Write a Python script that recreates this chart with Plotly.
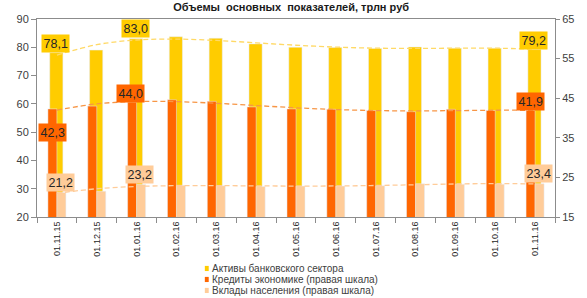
import numpy as np
import plotly.graph_objects as go

dates = ["01.11.15", "01.12.15", "01.01.16", "01.02.16", "01.03.16", "01.04.16", "01.05.16",
         "01.06.16", "01.07.16", "01.08.16", "01.09.16", "01.10.16", "01.11.16"]
assets = [78.1, 79.0, 83.0, 83.7, 83.2, 81.2, 80.0, 79.9, 79.6, 80.1, 79.7, 79.7, 79.2]
credits = [42.3, 43.0, 44.0, 44.6, 44.2, 42.8, 42.3, 42.2, 41.9, 41.6, 42.2, 41.9, 41.9]
deposits = [21.2, 21.5, 23.2, 23.0, 22.9, 22.7, 22.8, 22.8, 22.9, 23.4, 23.3, 23.3, 23.4]

names = ["Активы банковского сектора",
         "Кредиты экономике (правая шкала)",
         "Вклады населения (правая шкала)"]
c_assets, c_credits, c_deposits = "#FFCC00", "#FF6600", "#FFCC99"
c_tr_assets, c_tr_credits, c_tr_deposits = "#FFD966", "#F79646", "#FFCC99"

FONT = "Liberation Sans, Arial, sans-serif"

fig = go.Figure()
fig.add_trace(go.Bar(x=dates, y=assets, name=names[0], marker_color=c_assets,
                     width=0.33, offset=-0.18, yaxis="y", showlegend=False))
fig.add_trace(go.Bar(x=dates, y=credits, name=names[1], marker_color=c_credits,
                     width=0.226, offset=-0.226, yaxis="y2", showlegend=False))
fig.add_trace(go.Bar(x=dates, y=deposits, name=names[2], marker_color=c_deposits,
                     width=0.226, offset=0.0, yaxis="y2", showlegend=False))

# polynomial trend lines (like Excel trendlines) fitted to the series
idx = np.arange(len(dates))
for vals, col, ax in [(assets, c_tr_assets, "y"), (credits, c_tr_credits, "y2"),
                      (deposits, c_tr_deposits, "y2")]:
    p = np.polyfit(idx, vals, 4)
    fig.add_trace(go.Scatter(x=dates, y=np.polyval(p, idx), mode="lines",
                             line=dict(color=col, width=1.3, dash="5px,3px", shape="spline"),
                             yaxis=ax, showlegend=False, hoverinfo="skip"))

# data labels: (series values, index, axis, bg colour, xshift, yshift)
labels = [
    (assets, 0, "y", c_assets, -1, 9),
    (assets, 2, "y", c_assets, -1, 10),
    (assets, 12, "y", c_assets, -2, 9),
    (credits, 0, "y2", c_credits, -4, -24),
    (credits, 2, "y2", c_credits, -6, 9),
    (credits, 12, "y2", c_credits, -5, 9),
    (deposits, 0, "y2", c_deposits, 4, 10),
    (deposits, 2, "y2", c_deposits, 3, 10),
    (deposits, 12, "y2", c_deposits, 3, 10),
]
for vals, i, ax, bg, xs, ys in labels:
    fig.add_annotation(x=dates[i], y=vals[i], yref=ax, xref="x",
                       text=f"{vals[i]:.1f}".replace(".", ","), showarrow=False,
                       xshift=xs, yshift=ys, yanchor="middle", xanchor="center",
                       bgcolor=bg, borderpad=1.5,
                       font=dict(family=FONT, size=12.5, color="#262626"))

# manual compact legend
leg_cols = [c_assets, c_credits, c_deposits]
for k, (nm, col) in enumerate(zip(names, leg_cols)):
    yy = -0.26 - k * 0.0555
    fig.add_shape(type="rect", xref="paper", yref="paper",
                  x0=0.324, x1=0.3315, y0=yy - 0.013, y1=yy + 0.013,
                  fillcolor=col, line=dict(width=0))
    fig.add_annotation(x=0.334, y=yy, xref="paper", yref="paper", text=nm,
                       showarrow=False, xanchor="left", yanchor="middle",
                       font=dict(family=FONT, size=10, color="#404040"))

axis_col = "#8c8c8c"
tick_font = dict(family=FONT, size=11, color="#404040")
fig.update_layout(
    width=587, height=298,
    margin=dict(l=37, r=32, t=19, b=81),
    paper_bgcolor="white", plot_bgcolor="white",
    barmode="overlay",
    title=dict(text="<b>Объемы  основных  показателей, трлн руб</b>", x=0.496, xref="container",
               y=0.977, yref="container", yanchor="middle", xanchor="center",
               font=dict(family=FONT, size=11, color="#1a1a1a")),
    xaxis=dict(type="category", tickangle=-90, showline=True, linecolor=axis_col, mirror=True,
               ticks="outside", tickson="boundaries", ticklen=5, tickcolor=axis_col,
               tickfont=dict(family=FONT, size=9, color="#262626"), showgrid=False),
    yaxis=dict(range=[20, 90], dtick=10, showline=True, linecolor=axis_col, ticks="outside",
               ticklen=5, tickcolor=axis_col, showgrid=False, zeroline=False, tickfont=tick_font),
    yaxis2=dict(range=[15, 65], tick0=15, dtick=10, overlaying="y", side="right", showline=True,
                linecolor=axis_col, ticks="outside", ticklen=4, tickcolor=axis_col,
                showgrid=False, zeroline=False, tickfont=tick_font),
    showlegend=False,
)

fig.write_html("out.html", config={"displayModeBar": False},
               post_script="document.body.style.margin='0';")
